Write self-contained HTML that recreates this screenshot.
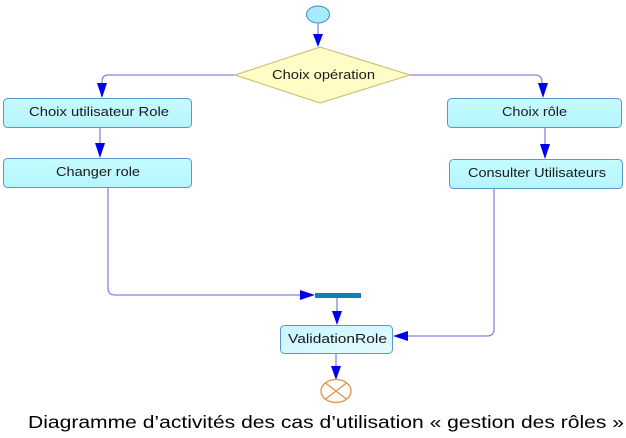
<!DOCTYPE html>
<html><head><meta charset="utf-8"><style>
html,body{margin:0;padding:0;background:#fff;}
svg{display:block;}
</style></head><body>
<svg width="626" height="438" viewBox="0 0 626 438" xmlns="http://www.w3.org/2000/svg">
<defs>
<linearGradient id="bx" x1="0" y1="0" x2="0" y2="1">
<stop offset="0" stop-color="#c4fcff"/><stop offset="1" stop-color="#b6f4fc"/>
</linearGradient>
<linearGradient id="bx2" x1="0" y1="0" x2="1" y2="1">
<stop offset="0" stop-color="#c8f4ff"/><stop offset="1" stop-color="#e4fcff"/>
</linearGradient>
</defs>
<g fill="none" stroke="#8484e4" stroke-width="1.3">
<path d="M318 23 V40"/>
<path d="M235 75 H108 Q102 75 102 82 V86"/>
<path d="M410 75 H535 Q542 75 542 82 V86"/>
<path d="M100 128 V146"/>
<path d="M545 128 V147"/>
<path d="M108 188 V288 Q108 295 115 295 H302"/>
<path d="M494 188 V329 Q494 336 487 336 H405"/>
<path d="M337 298 V313"/>
<path d="M336 354 V367"/>
</g>
<g fill="#0000ee">
<polygon points="313,34 323,34 318,47"/>
<polygon points="97,83 107,83 102,98"/>
<polygon points="538,83 548,83 543,98"/>
<polygon points="95,143 105,143 100,158"/>
<polygon points="540,144 550,144 545,159"/>
<polygon points="300,290 300,300 315,295"/>
<polygon points="332,311 342,311 337,325"/>
<polygon points="408,331 408,341 393,336"/>
<polygon points="331,366 341,366 336,380"/>
</g>
<ellipse cx="318" cy="14.5" rx="11.5" ry="8.5" fill="#a6ecfc" stroke="#3a8ad0" stroke-width="1"/>
<polygon points="235,75 320,47 410,75 320,103" fill="#fffcc6" stroke="#c8b86c" stroke-width="1"/>
<rect x="3.5" y="98.5" width="188" height="29" rx="4" fill="url(#bx)" stroke="#5a96d4"/>
<rect x="3.5" y="158.5" width="188" height="29" rx="4" fill="url(#bx)" stroke="#5a96d4"/>
<rect x="447.5" y="98.5" width="174" height="29" rx="4" fill="url(#bx)" stroke="#5a96d4"/>
<rect x="449.5" y="159.5" width="173" height="29" rx="4" fill="url(#bx)" stroke="#5a96d4"/>
<rect x="280.5" y="325.5" width="112" height="28" rx="4" fill="url(#bx2)" stroke="#5a96d4"/>
<rect x="315" y="293" width="46" height="5" fill="#1080b8"/>
<g stroke="#e0904a" stroke-width="1.3" fill="#fff">
<ellipse cx="336" cy="391" rx="15" ry="11.5"/>
<path d="M325.4 382.9 L346.6 399.1 M346.6 382.9 L325.4 399.1" fill="none"/>
</g>
<g font-family="Liberation Sans, Arial, sans-serif" font-size="12.5" fill="#1a1a1a">
<text x="29" y="116" textLength="140" lengthAdjust="spacingAndGlyphs">Choix utilisateur Role</text>
<text x="56" y="176" textLength="84" lengthAdjust="spacingAndGlyphs">Changer role</text>
<text x="502" y="116" textLength="65" lengthAdjust="spacingAndGlyphs">Choix rôle</text>
<text x="468" y="177" textLength="138" lengthAdjust="spacingAndGlyphs">Consulter Utilisateurs</text>
<text x="288" y="343" textLength="99" lengthAdjust="spacingAndGlyphs">ValidationRole</text>
<text x="272" y="79" textLength="103" lengthAdjust="spacingAndGlyphs">Choix opération</text>
</g>
<text x="28" y="428" font-family="Liberation Sans, Arial, sans-serif" font-size="17.5" fill="#000" textLength="596" lengthAdjust="spacingAndGlyphs">Diagramme d’activités des cas d’utilisation « gestion des rôles »</text>
</svg>
</body></html>
